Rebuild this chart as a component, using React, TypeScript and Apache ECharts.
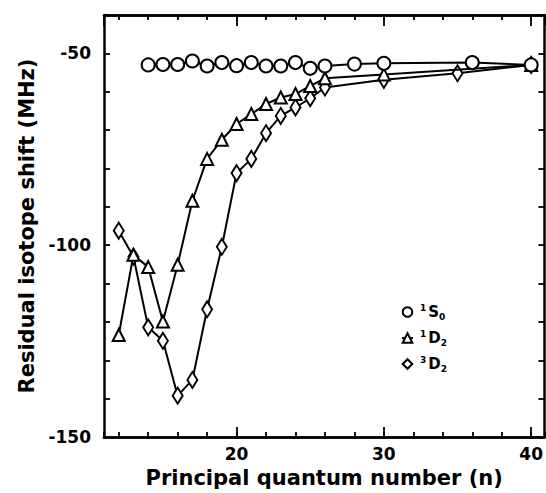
import React, { useEffect, useRef } from "react";
import * as echarts from "echarts";

const n1S0 = [14, 15, 16, 17, 18, 19, 20, 21, 22, 23, 24, 25, 26, 28, 30, 36, 40];
const v1S0 = [-53.0, -52.9, -52.9, -52.0, -53.3, -52.4, -53.2, -52.4, -53.3, -53.3, -52.4, -53.9, -53.3, -52.8, -52.6, -52.4, -53.0];

const n1D2 = [12, 13, 14, 15, 16, 17, 18, 19, 20, 21, 22, 23, 24, 25, 26, 30, 40];
const v1D2 = [-123.4, -102.5, -105.7, -119.9, -105.1, -88.4, -77.5, -72.5, -68.4, -65.8, -63.2, -61.5, -60.6, -58.5, -56.5, -55.5, -53.0];

const n3D2 = [12, 13, 14, 15, 16, 17, 18, 19, 20, 21, 22, 23, 24, 25, 26, 30, 35, 40];
const v3D2 = [-96.2, -103.0, -121.4, -124.9, -139.2, -135.1, -116.7, -100.4, -81.2, -77.5, -70.8, -66.3, -64.1, -61.7, -58.9, -56.9, -55.2, -53.0];

const xLabels = [20, 30, 40];
const yLabels = [-50, -100, -150];

const legendParts: Record<string, [string, string, string]> = {
  "1S0": ["1", "S", "0"],
  "1D2": ["1", "D", "2"],
  "3D2": ["3", "D", "2"],
};

const FONT = "DejaVu Sans";
const X_MIN = 11;
const X_MAX = 40.9;

export default function App() {
  const ref = useRef<HTMLDivElement>(null);
  useEffect(() => {
    if (!ref.current) return;
    const chart = echarts.init(ref.current, undefined, { renderer: "svg" });
    const axisLine = { show: true, lineStyle: { color: "#000", width: 2.5 } };
    const mkX = (pos: "bottom" | "top", step: number, len: number, labels: boolean) => ({
      type: "value",
      position: pos,
      min: X_MIN,
      max: X_MAX,
      minInterval: step,
      maxInterval: step,
      splitNumber: Math.round(30 / step),
      axisLine,
      splitLine: { show: false },
      axisTick: { show: true, inside: true, length: len, lineStyle: { color: "#000", width: 1.8 } },
      axisLabel: labels
        ? {
            show: true,
            showMinLabel: false,
            showMaxLabel: false,
            margin: 8,
            color: "#000",
            fontFamily: FONT,
            fontWeight: "bold",
            fontSize: 17,
            formatter: (v: number) => (xLabels.includes(v) ? String(v) : ""),
          }
        : { show: false },
      name: labels ? "Principal quantum number (n)" : "",
      nameLocation: "middle",
      nameGap: 28,
      nameTextStyle: { color: "#000", fontFamily: FONT, fontWeight: "bold", fontSize: 21 },
    });
    const mkY = (pos: "left" | "right", labels: boolean) => ({
      type: "value",
      position: pos,
      min: -150,
      max: -40,
      interval: 10,
      axisLine,
      splitLine: { show: false },
      axisTick: { show: true, inside: true, length: 6, lineStyle: { color: "#000", width: 1.8 } },
      axisLabel: labels
        ? {
            show: true,
            margin: 13,
            color: "#000",
            fontFamily: FONT,
            fontWeight: "bold",
            fontSize: 17,
            formatter: (v: number) => (yLabels.includes(v) ? String(v) : ""),
          }
        : { show: false },
      name: labels ? "Residual isotope shift (MHz)" : "",
      nameLocation: "middle",
      nameGap: 66,
      nameTextStyle: { color: "#000", fontFamily: FONT, fontWeight: "bold", fontSize: 21 },
    });
    const zip = (xs: number[], ys: number[]) => xs.map((x, i) => [x, ys[i]]);
    const base = {
      type: "line",
      xAxisIndex: 0,
      yAxisIndex: 0,
      lineStyle: { color: "#000", width: 2 },
      itemStyle: { color: "#fff", borderColor: "#000", borderWidth: 2 },
      emphasis: { disabled: true },
    };
    chart.setOption({
      animation: false,
      backgroundColor: "#fff",
      grid: { left: 104, right: 1, top: 15, bottom: 53, containLabel: false },
      xAxis: [mkX("bottom", 10, 10, true), mkX("bottom", 2, 5, false), mkX("top", 10, 11, false), mkX("top", 2, 5, false)],
      yAxis: [mkY("left", true), mkY("right", false)],
      legend: {
        data: ["1S0", "1D2", "3D2"],
        orient: "vertical",
        left: 396,
        top: 298,
        itemGap: 8,
        itemWidth: 11,
        itemHeight: 12,
        formatter: (name: string) => {
          const p = legendParts[name];
          return `{sup|${p[0]}}{m|${p[1]}}{sub|${p[2]}}`;
        },
        textStyle: {
          color: "#000",
          fontFamily: FONT,
          fontWeight: "bold",
          rich: {
            sup: { fontSize: 9, fontFamily: FONT, fontWeight: "bold", color: "#000", verticalAlign: "top", lineHeight: 18, padding: [0, 2, 0, 2] },
            m: { fontSize: 15, fontFamily: FONT, fontWeight: "bold", color: "#000", lineHeight: 18 },
            sub: { fontSize: 9, fontFamily: FONT, fontWeight: "bold", color: "#000", verticalAlign: "bottom", lineHeight: 18 },
          },
        },
      },
      series: [
        { ...base, name: "3D2", data: zip(n3D2, v3D2), symbol: "diamond", symbolSize: [10, 16], z: 2 },
        { ...base, name: "1D2", data: zip(n1D2, v1D2), symbol: "triangle", symbolSize: 12, z: 3 },
        { ...base, name: "1S0", data: zip(n1S0, v1S0), symbol: "circle", symbolSize: 13, z: 4 },
      ],
    });
    return () => chart.dispose();
  }, []);
  return <div ref={ref} style={{ width: 546, height: 493, position: "fixed", left: 0, top: 0 }} />;
}
